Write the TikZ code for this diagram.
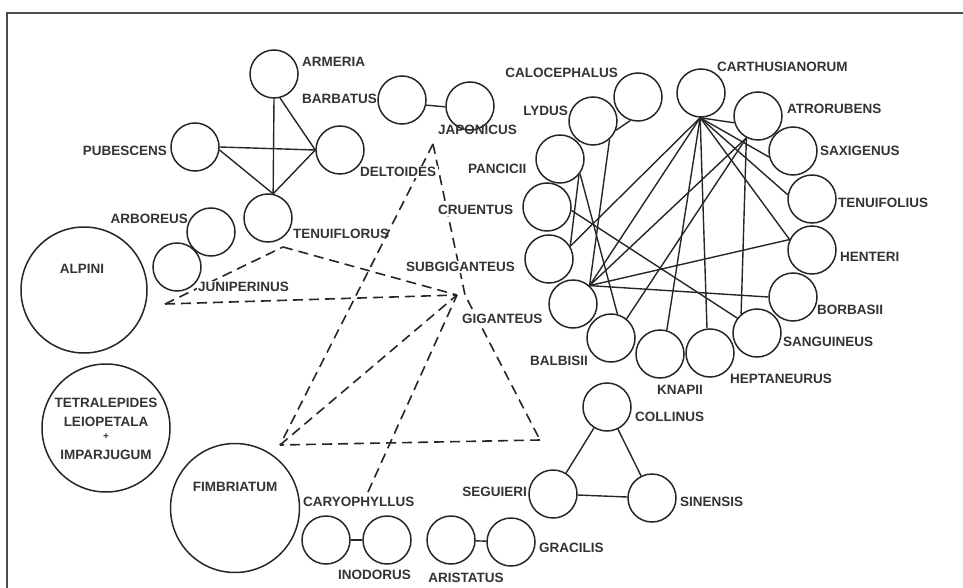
\documentclass[tikz,border=0pt]{standalone}
\usepackage{fontspec}
\setmainfont{Liberation Sans}
\begin{document}
\begin{tikzpicture}[x=1pt,y=-1pt,
  sp/.style={circle,draw=black!85,line width=1.5pt,minimum size=48pt,inner sep=0pt},
  big/.style={sp,minimum size=128pt},
  lab/.style={font=\fontsize{13.5}{14}\selectfont\bfseries,inner sep=0pt,text=black!80},
  lw/.style={lab,anchor=west},
  le/.style={lab,anchor=east},
  wf/.style={fill=white,inner sep=1.5pt},
  sline/.style={draw=black!85,line width=1.4pt},
  dsh/.style={draw=black!85,line width=1.6pt,dash pattern=on 10pt off 6pt},
]
\useasboundingbox (0,0) rectangle (963,588);
\draw[line width=1.6pt,black!70] (7,588) -- (7,13) -- (963,13);

% circles
\node[sp] (armeria) at (274,74) {};
\node[sp] (barbatus) at (402,100) {};
\node[sp] (japonicus) at (470,106) {};
\node[sp] (pubescens) at (195,147) {};
\node[sp] (deltoides) at (340,150) {};
\node[sp] (tenuiflorus) at (268,218) {};
\node[sp] (arboreus) at (211,232) {};
\node[sp] (juniperinus) at (177,267) {};
\node[big,minimum size=126pt] (alpini) at (84,290) {};
\node[big] (tetra) at (106,428) {};
\node[big,minimum size=129pt] (fimbriatum) at (235,508) {};
\node[sp] (caryophyllus) at (326,540) {};
\node[sp] (inodorus) at (387,540) {};
\node[sp] (aristatus) at (451,540) {};
\node[sp] (gracilis) at (511,542) {};
\node[sp] (collinus) at (607,407) {};
\node[sp] (seguieri) at (553,494) {};
\node[sp] (sinensis) at (652,498) {};
\node[sp] (calocephalus) at (638,97) {};
\node[sp] (lydus) at (593,121) {};
\node[sp] (pancicii) at (560,159) {};
\node[sp] (cruentus) at (547,207) {};
\node[sp] (subgiganteus) at (549,259) {};
\node[sp] (giganteus) at (573,304) {};
\node[sp] (balbisii) at (611,338) {};
\node[sp] (knapii) at (660,354) {};
\node[sp] (heptaneurus) at (710,353) {};
\node[sp] (sanguineus) at (757,333) {};
\node[sp] (borbasii) at (793,297) {};
\node[sp] (henteri) at (812,250) {};
\node[sp] (tenuifolius) at (812,199) {};
\node[sp] (saxigenus) at (793,151) {};
\node[sp] (atrorubens) at (758,116) {};
\node[sp] (carthusianorum) at (701,93) {};

% solid connectors, upper left group
\draw[sline] (armeria.270) -- (tenuiflorus.78);
\draw[sline] (armeria.284) -- (deltoides.180);
\draw[sline] (pubescens.0) -- (deltoides.180);
\draw[sline] (pubescens.-7) -- (tenuiflorus.78);
\draw[sline] (deltoides.180) -- (tenuiflorus.78);
\draw[sline] (barbatus.-12) -- (japonicus.182);
\draw[sline] (caryophyllus) -- (inodorus);
\draw[sline] (aristatus) -- (gracilis);
\draw[sline] (collinus) -- (seguieri);
\draw[sline] (collinus) -- (sinensis);
\draw[sline] (seguieri) -- (sinensis);

% ring
\draw[sline] (lydus.-22) -- (calocephalus.-108);
\draw[sline] (lydus.-48) -- (giganteus.48);
\draw[sline] (pancicii.-36) -- (balbisii.75);
\draw[sline] (pancicii.-40) -- (subgiganteus.31);
\draw[sline] (cruentus.-8) -- (sanguineus.143);
\draw[sline] (subgiganteus.31) -- (carthusianorum.268);
\draw[sline] (giganteus.48) -- (carthusianorum.268);
\draw[sline] (giganteus.48) -- (atrorubens.242);
\draw[sline] (giganteus.48) -- (henteri.155);
\draw[sline] (giganteus.48) -- (borbasii.180);
\draw[sline] (balbisii.51) -- (atrorubens.242);
\draw[sline] (knapii.74) -- (carthusianorum.268);
\draw[sline] (heptaneurus.97) -- (carthusianorum.268);
\draw[sline] (sanguineus.130) -- (atrorubens.242);
\draw[sline] (carthusianorum.268) -- (atrorubens.196);
\draw[sline] (carthusianorum.268) -- (saxigenus.194);
\draw[sline] (carthusianorum.268) -- (tenuifolius.170);
\draw[sline] (carthusianorum.268) -- (henteri.155);

% dashed connectors
\coordinate (apex) at (433,144);
\coordinate (PG) at (457,295);
\coordinate (PGb) at (465,295);
\coordinate (PF) at (280,445);
\coordinate (PR) at (540,440);
\coordinate (PJ) at (165,304);
\coordinate (PT) at (283,247);
\coordinate (PC) at (368,492);
\draw[dsh] (apex) -- (PF);
\draw[dsh] (apex) -- (PGb) -- (PR);
\draw[dsh] (PR) -- (PF);
\draw[dsh] (PF) -- (PG);
\draw[dsh] (PJ) -- (PG);
\draw[dsh] (PJ) -- (PT);
\draw[dsh] (PT) -- (PG);
\draw[dsh] (PC) -- (PG);

% labels
\node[lw] (l-armeria) at (302,62) {ARMERIA};
\node[lw] (l-barbatus) at (302,99) {BARBATUS};
\node[le] (l-pubescens) at (167,151) {PUBESCENS};
\node[lw,wf] (l-deltoides) at (358.5,172) {DELTOIDES};
\node[le] (l-arboreus) at (188,219) {ARBOREUS};
\node[lw] (l-tenuiflorus) at (293,234) {TENUIFLORUS};
\node[lab] (l-alpini) at (82,269) {ALPINI};
\node[lw,wf] (l-juniperinus) at (196.5,287) {JUNIPERINUS};
\node[lw] (l-japonicus) at (438,130) {JAPONICUS};
\node[lw] (l-pancicii) at (468,169) {PANCICII};
\node[lw,wf] (l-cruentus) at (436.5,210) {CRUENTUS};
\node[lw,wf] (l-subgiganteus) at (404.5,267) {SUBGIGANTEUS};
\node[lw,wf] (l-giganteus) at (460.5,319) {GIGANTEUS};
\node[le] (l-calocephalus) at (618,73) {CALOCEPHALUS};
\node[le] (l-lydus) at (568,111) {LYDUS};
\node[lw] (l-carthusianorum) at (717,67) {CARTHUSIANORUM};
\node[lw] (l-atrorubens) at (787,109) {ATRORUBENS};
\node[lw] (l-saxigenus) at (820,151) {SAXIGENUS};
\node[lw] (l-tenuifolius) at (838,203) {TENUIFOLIUS};
\node[lw] (l-henteri) at (840,257) {HENTERI};
\node[lw] (l-borbasii) at (817,310) {BORBASII};
\node[lw] (l-sanguineus) at (783,342) {SANGUINEUS};
\node[lw] (l-heptaneurus) at (730,379) {HEPTANEURUS};
\node[lw] (l-knapii) at (657,390) {KNAPII};
\node[lw] (l-balbisii) at (530,361) {BALBISII};
\node[lw] (l-collinus) at (635,417) {COLLINUS};
\node[le] (l-seguieri) at (527,492) {SEGUIERI};
\node[lw] (l-sinensis) at (680,502) {SINENSIS};
\node[lw] (l-gracilis) at (539,548) {GRACILIS};
\node[lab] (l-aristatus) at (466,578) {ARISTATUS};
\node[lw] (l-inodorus) at (338,575) {INODORUS};
\node[lw] (l-caryophyllus) at (303,502) {CARYOPHYLLUS};
\node[lab] (l-fimbriatum) at (235,487) {FIMBRIATUM};
\node[lab] (l-tetra1) at (106,403) {TETRALEPIDES};
\node[lab] (l-tetra2) at (106,422) {LEIOPETALA};
\node[lab,font=\fontsize{10}{10}\selectfont\bfseries] (l-tetra3) at (106,437) {+};
\node[lab] (l-tetra4) at (106,455) {IMPARJUGUM};
\end{tikzpicture}
\end{document}
